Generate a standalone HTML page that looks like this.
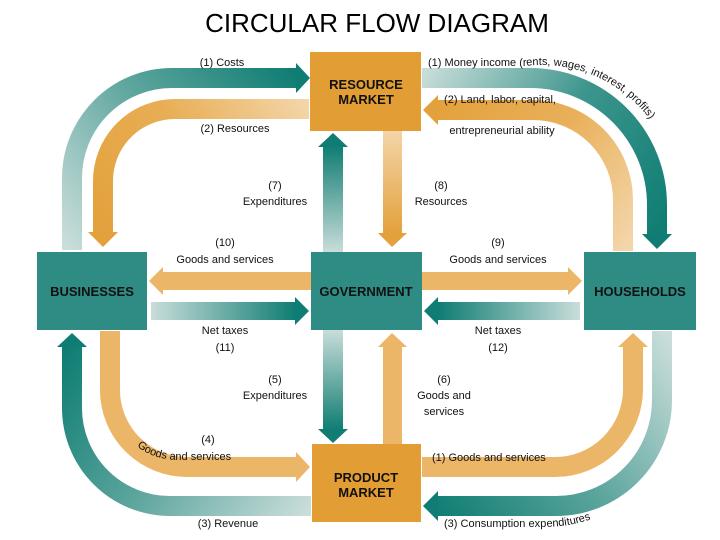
<!DOCTYPE html>
<html><head><meta charset="utf-8"><style>
html,body{margin:0;padding:0;background:#fff;}
svg{display:block;font-family:"Liberation Sans",sans-serif;}
.l{font-size:11px;fill:#111;text-anchor:middle;}
.b{font-size:13px;font-weight:bold;fill:#111;text-anchor:middle;}
</style></head><body>
<svg width="720" height="540" viewBox="0 0 720 540" xmlns="http://www.w3.org/2000/svg">
<defs>
<linearGradient id="g1" gradientUnits="userSpaceOnUse" x1="72" y1="250" x2="300" y2="78"><stop offset="0" stop-color="#c9ddda"/><stop offset="0.5" stop-color="#5ea69e"/><stop offset="1" stop-color="#0f7d73"/></linearGradient>
<linearGradient id="g2" gradientUnits="userSpaceOnUse" x1="308" y1="109" x2="103" y2="240"><stop offset="0" stop-color="#f3d5a8"/><stop offset="0.5" stop-color="#e8ae55"/><stop offset="1" stop-color="#e3a13c"/></linearGradient>
<linearGradient id="g3" gradientUnits="userSpaceOnUse" x1="422" y1="78" x2="657" y2="240"><stop offset="0" stop-color="#c8ddd9"/><stop offset="0.5" stop-color="#3c958c"/><stop offset="1" stop-color="#0f7d73"/></linearGradient>
<linearGradient id="g4" gradientUnits="userSpaceOnUse" x1="623" y1="250" x2="430" y2="110"><stop offset="0" stop-color="#f3d5a8"/><stop offset="0.5" stop-color="#e9b05a"/><stop offset="1" stop-color="#e3a13c"/></linearGradient>
<linearGradient id="g5" gradientUnits="userSpaceOnUse" x1="310" y1="506" x2="72" y2="340"><stop offset="0" stop-color="#c9ddda"/><stop offset="0.5" stop-color="#5ea69e"/><stop offset="1" stop-color="#0f7d73"/></linearGradient>
<linearGradient id="g6" gradientUnits="userSpaceOnUse" x1="662" y1="332" x2="430" y2="506"><stop offset="0" stop-color="#c9ddda"/><stop offset="0.5" stop-color="#5ea69e"/><stop offset="1" stop-color="#0f7d73"/></linearGradient>
<linearGradient id="tv1" x1="0" y1="1" x2="0" y2="0"><stop offset="0" stop-color="#c9ddda"/><stop offset="1" stop-color="#0f7d73"/></linearGradient>
<linearGradient id="tv2" x1="0" y1="0" x2="0" y2="1"><stop offset="0" stop-color="#c9ddda"/><stop offset="1" stop-color="#0f7d73"/></linearGradient>
<linearGradient id="ov1" x1="0" y1="0" x2="0" y2="1"><stop offset="0" stop-color="#f3d5a8"/><stop offset="1" stop-color="#e3a13c"/></linearGradient>
<linearGradient id="th1" x1="0" y1="0" x2="1" y2="0"><stop offset="0" stop-color="#c9ddda"/><stop offset="1" stop-color="#0f7d73"/></linearGradient>
<linearGradient id="th2" x1="1" y1="0" x2="0" y2="0"><stop offset="0" stop-color="#c9ddda"/><stop offset="1" stop-color="#0f7d73"/></linearGradient>
<path id="arc1" d="M428 66 H525 A135 135 0 0 1 660 135"/>
<path id="arc2" d="M444 527 H540 Q590 527 615 505"/>
<path id="arc3" d="M137 446 Q150 458 175 460 H245"/>
</defs>
<text x="377" y="32" font-size="26" text-anchor="middle" fill="#000">CIRCULAR FLOW DIAGRAM</text>

<!-- top-left -->
<path d="M72 250 V178 A100 100 0 0 1 172 78 H297" fill="none" stroke="url(#g1)" stroke-width="20"/>
<polygon points="296,63 310,78 296,93" fill="#0f7d73"/>
<path d="M309 109 H175 A72 72 0 0 0 103 181 V233" fill="none" stroke="url(#g2)" stroke-width="20"/>
<polygon points="88,232 118,232 103,247" fill="#e3a13c"/>
<!-- top-right -->
<path d="M422 78 H530 A127 127 0 0 1 657 205 V235" fill="none" stroke="url(#g3)" stroke-width="20"/>
<polygon points="642,234 672,234 657,249" fill="#0f7d73"/>
<path d="M623 251 V200 A90 90 0 0 0 533 110 H437" fill="none" stroke="url(#g4)" stroke-width="20"/>
<polygon points="438,95 438,125 423,110" fill="#e3a13c"/>
<!-- bottom-left -->
<path d="M110 331 V390 A77 77 0 0 0 187 467 H297" fill="none" stroke="#ecb668" stroke-width="20"/>
<polygon points="296,452 296,482 310,467" fill="#ecb668"/>
<path d="M311 506 H170 A98 98 0 0 1 72 408 V346" fill="none" stroke="url(#g5)" stroke-width="20"/>
<polygon points="57,347 87,347 72,333" fill="#0f7d73"/>
<!-- bottom-right -->
<path d="M422 467 H555 A78 78 0 0 0 633 389 V346" fill="none" stroke="#ecb668" stroke-width="20"/>
<polygon points="618,347 648,347 633,333" fill="#ecb668"/>
<path d="M662 331 V400 A106 106 0 0 1 556 506 H437" fill="none" stroke="url(#g6)" stroke-width="20"/>
<polygon points="438,491 438,521 423,506" fill="#0f7d73"/>

<!-- middle verticals -->
<rect x="323" y="146" width="20" height="106" fill="url(#tv1)"/>
<polygon points="318,147 348,147 333,133" fill="#0f7d73"/>
<rect x="383" y="131" width="19" height="103" fill="url(#ov1)"/>
<polygon points="378,233 407,233 392,247" fill="#e3a13c"/>
<rect x="323" y="330" width="20" height="100" fill="url(#tv2)"/>
<polygon points="318,429 348,429 333,443" fill="#0f7d73"/>
<rect x="383" y="346" width="19" height="98" fill="#ecb668"/>
<polygon points="378,347 407,347 392,333" fill="#ecb668"/>
<!-- middle horizontals -->
<rect x="162" y="272" width="149" height="18" fill="#ecb668"/>
<polygon points="163,267 163,295 149,281" fill="#ecb668"/>
<rect x="422" y="272" width="147" height="18" fill="#ecb668"/>
<polygon points="568,267 568,295 582,281" fill="#ecb668"/>
<rect x="151" y="302" width="145" height="18" fill="url(#th1)"/>
<polygon points="295,297 295,325 309,311" fill="#0f7d73"/>
<rect x="438" y="302" width="142" height="18" fill="url(#th2)"/>
<polygon points="438,297 438,325 424,311" fill="#0f7d73"/>

<!-- boxes -->
<rect x="310" y="52" width="111" height="79" fill="#e29e34"/>
<rect x="312" y="444" width="109" height="78" fill="#e29e34"/>
<rect x="37" y="252" width="110" height="78" fill="#2f8c84"/>
<rect x="311" y="252" width="111" height="78" fill="#2f8c84"/>
<rect x="584" y="252" width="112" height="78" fill="#2f8c84"/>
<text class="b" x="366" y="89">RESOURCE</text><text class="b" x="366" y="104">MARKET</text>
<text class="b" x="366" y="482">PRODUCT</text><text class="b" x="366" y="497">MARKET</text>
<text class="b" x="92" y="296">BUSINESSES</text>
<text class="b" x="366" y="296">GOVERNMENT</text>
<text class="b" x="640" y="296">HOUSEHOLDS</text>

<!-- labels -->
<text class="l" x="222" y="66">(1) Costs</text>
<text class="l" x="235" y="132">(2) Resources</text>
<text class="l" x="275" y="189">(7)</text><text class="l" x="275" y="205">Expenditures</text>
<text class="l" x="225" y="246">(10)</text><text class="l" x="225" y="263">Goods and services</text>
<text font-size="11" fill="#111"><textPath href="#arc1">(1) Money income (rents, wages, interest, profits)</textPath></text>
<text class="l" x="500" y="103">(2) Land, labor, capital,</text>
<text class="l" x="502" y="134">entrepreneurial ability</text>
<text class="l" x="441" y="189">(8)</text><text class="l" x="441" y="205">Resources</text>
<text class="l" x="498" y="246">(9)</text><text class="l" x="498" y="263">Goods and services</text>
<text class="l" x="225" y="334">Net taxes</text><text class="l" x="225" y="351">(11)</text>
<text class="l" x="498" y="334">Net taxes</text><text class="l" x="498" y="351">(12)</text>
<text class="l" x="275" y="383">(5)</text><text class="l" x="275" y="399">Expenditures</text>
<text class="l" x="444" y="383">(6)</text><text class="l" x="444" y="399">Goods and</text><text class="l" x="444" y="415">services</text>
<text class="l" x="208" y="443">(4)</text>
<text font-size="11" fill="#111"><textPath href="#arc3">Goods and services</textPath></text>
<text font-size="11" fill="#111" x="432" y="461">(1) Goods and services</text>
<text class="l" x="228" y="527">(3) Revenue</text>
<text font-size="11" fill="#111"><textPath href="#arc2">(3) Consumption expenditures</textPath></text>
</svg>
</body></html>
